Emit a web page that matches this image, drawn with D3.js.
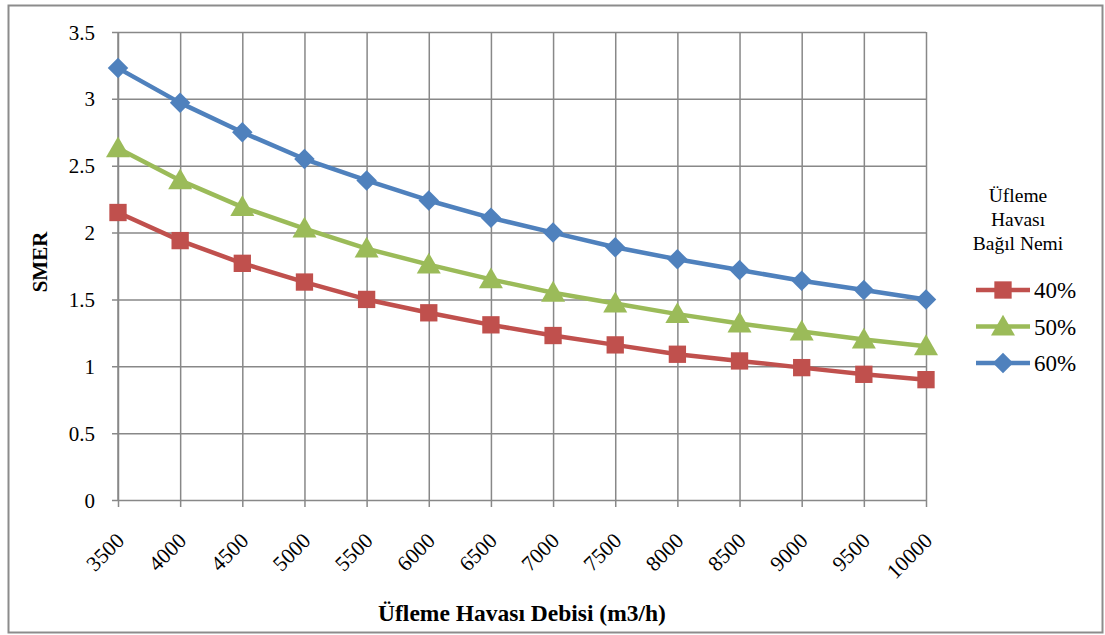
<!DOCTYPE html>
<html>
<head>
<meta charset="utf-8">
<script src="https://cdn.jsdelivr.net/npm/d3@7"></script>
<style>
  html, body { margin: 0; padding: 0; background: #fff; }
  svg { display: block; }
  text { font-family: "Liberation Serif", "Times New Roman", serif; fill: #000; }
</style>
</head>
<body>
<svg id="chart" width="1105" height="635"></svg>
<script>
// Blower air flow rates (m3/h)
const flowRates = [3500, 4000, 4500, 5000, 5500, 6000, 6500, 7000, 7500, 8000, 8500, 9000, 9500, 10000];
// SMER for each relative humidity of the supply air
const smer40 = [2.15, 1.94, 1.77, 1.63, 1.50, 1.40, 1.31, 1.23, 1.16, 1.09, 1.04, 0.99, 0.94, 0.90];
const smer50 = [2.63, 2.39, 2.19, 2.03, 1.88, 1.76, 1.65, 1.55, 1.47, 1.39, 1.32, 1.26, 1.20, 1.15];
const smer60 = [3.23, 2.97, 2.75, 2.55, 2.39, 2.24, 2.11, 2.00, 1.89, 1.80, 1.72, 1.64, 1.57, 1.50];
const seriesNames = ["40%", "50%", "60%"];
const yTicks = [0, 0.5, 1, 1.5, 2, 2.5, 3, 3.5];

const series = [
  { name: seriesNames[0], values: smer40, color: "#C0504D", symbol: "square" },
  { name: seriesNames[1], values: smer50, color: "#9BBB59", symbol: "triangle" },
  { name: seriesNames[2], values: smer60, color: "#4F81BD", symbol: "diamond" }
];

const svg = d3.select("#chart");
const plot = { left: 118, right: 926, top: 32, bottom: 500 };
const gridColor = "#888888";

// outer frame
svg.append("rect")
  .attr("x", 8.5).attr("y", 5.5)
  .attr("width", 1094).attr("height", 627)
  .attr("fill", "none").attr("stroke", "#8c8c8c").attr("stroke-width", 2);

const x = d3.scalePoint().domain(flowRates).range([plot.left, plot.right]);
const y = d3.scaleLinear().domain([0, 3.5]).range([plot.bottom, plot.top]);

// horizontal grid + y axis
const yAxis = d3.axisLeft(y).tickValues(yTicks).tickSize(6).tickPadding(17)
  .tickFormat(d => String(d));
const yg = svg.append("g").attr("transform", `translate(${plot.left},0)`).call(yAxis);
yg.select(".domain").remove();
yg.selectAll(".tick line").attr("stroke", gridColor).attr("stroke-width", 1.5)
  .attr("x1", -6).attr("x2", plot.right - plot.left);
yg.selectAll(".tick text").style("font-size", "21px").attr("dy", "0.34em").attr("fill", "#000");

// vertical grid + x axis
const xAxis = d3.axisBottom(x).tickSize(7).tickPadding(0).tickFormat(d => String(d));
const xg = svg.append("g").attr("transform", `translate(0,${plot.bottom})`).call(xAxis);
xg.select(".domain").remove();
xg.selectAll(".tick line").attr("stroke", gridColor).attr("stroke-width", 1.5)
  .attr("y1", -(plot.bottom - plot.top)).attr("y2", 7);
xg.selectAll(".tick text")
  .style("font-size", "21.5px")
  .attr("text-anchor", "end")
  .attr("dy", 0)
  .attr("y", 0)
  .attr("transform", "translate(7,42) rotate(-45)")
  .attr("fill", "#000");

// axis line on left (gray)
svg.append("line")
  .attr("x1", plot.left).attr("x2", plot.left)
  .attr("y1", plot.top).attr("y2", plot.bottom)
  .attr("stroke", gridColor).attr("stroke-width", 1.5);

// marker shapes; the diamond is a square turned by 45 degrees
const symbolGen = {
  square: d3.symbol().type(d3.symbolSquare).size(300),
  triangle: d3.symbol().type(d3.symbolTriangle).size(250),
  diamond: d3.symbol().type(d3.symbolSquare).size(210)
};
const markerTransform = (sym, cx, cy) => {
  if (sym === "triangle") return `translate(${cx},${cy + 2})`;
  if (sym === "diamond") return `translate(${cx},${cy}) rotate(45)`;
  return `translate(${cx},${cy})`;
};

const line = d3.line().x((d, i) => x(flowRates[i])).y(d => y(d));

series.forEach(s => {
  const g = svg.append("g");
  g.append("path")
    .attr("d", line(s.values))
    .attr("fill", "none")
    .attr("stroke", s.color)
    .attr("stroke-width", 4.5)
    .attr("stroke-linejoin", "round");
  g.selectAll("path.m").data(s.values).enter().append("path")
    .attr("class", "m")
    .attr("d", symbolGen[s.symbol])
    .attr("transform", (d, i) => markerTransform(s.symbol, x(flowRates[i]), y(d)))
    .attr("fill", s.color);
});

// axis titles
svg.append("text")
  .attr("transform", "translate(47,262) rotate(-90)")
  .attr("text-anchor", "middle")
  .style("font-size", "21px").style("font-weight", "bold")
  .text("SMER");

svg.append("text")
  .attr("x", 522).attr("y", 621)
  .attr("text-anchor", "middle")
  .style("font-size", "23.5px").style("font-weight", "bold")
  .text("Üfleme Havası Debisi (m3/h)");

// legend
const legendTitle = ["Üfleme", "Havası", "Bağıl Nemi"];
const lg = svg.append("g");
lg.selectAll("text.t").data(legendTitle).enter().append("text")
  .attr("class", "t")
  .attr("x", 1018).attr("y", (d, i) => 202 + i * 24)
  .attr("text-anchor", "middle")
  .style("font-size", "19.5px")
  .text(d => d);

series.forEach((s, i) => {
  const cy = 290 + i * 36.5;
  lg.append("line")
    .attr("x1", 976).attr("x2", 1030).attr("y1", cy).attr("y2", cy)
    .attr("stroke", s.color).attr("stroke-width", 4.5);
  lg.append("path")
    .attr("d", symbolGen[s.symbol])
    .attr("transform", markerTransform(s.symbol, 1003, cy))
    .attr("fill", s.color);
  lg.append("text")
    .attr("x", 1034).attr("y", cy + 8)
    .style("font-size", "23px")
    .text(s.name);
});
</script>
</body>
</html>
